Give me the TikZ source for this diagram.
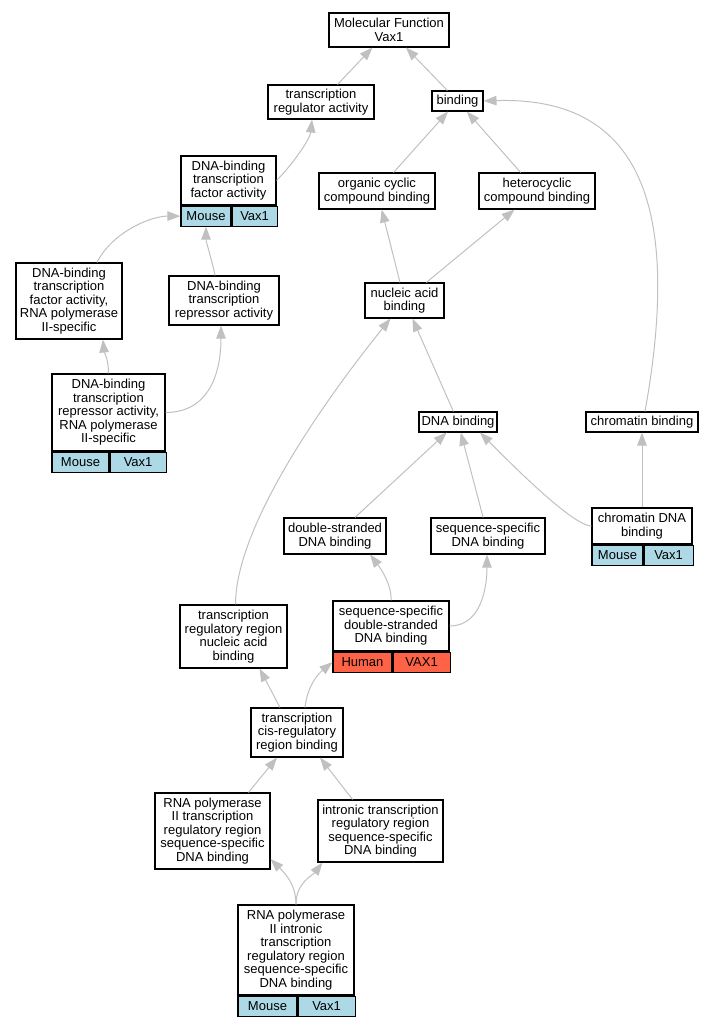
\documentclass[tikz,border=0pt]{standalone}
\usepackage{fontspec}
\setmainfont{Liberation Sans}
\usetikzlibrary{arrows.meta}
\definecolor{edgegray}{HTML}{C0C0C0}
\definecolor{mouseblue}{HTML}{ADD8E6}
\definecolor{humanred}{HTML}{FF6347}
\begin{document}
\begin{tikzpicture}[x=1pt, y=-1pt,
    term/.style={draw, line width=1.1pt, fill=white, inner sep=0pt, align=center, font=\fontsize{13}{13.5}\selectfont},
    cell/.style={term, minimum height=20pt, anchor=north west},
    edge/.style={draw=edgegray, line width=1pt, -{Triangle[length=13pt, width=9.5pt, fill=edgegray]}}
]
    \useasboundingbox (0,0) rectangle (715,1027);

    % Top terms
    \node[term, minimum width=120pt, minimum height=34pt] (mf) at (389,30) {Molecular Function\\Vax1};
    \node[term, minimum width=106pt, minimum height=34pt] (tra) at (321,102) {transcription\\regulator activity};
    \node[term, minimum width=51pt, minimum height=20pt] (bind) at (457.5,101) {binding};

    % DNA-binding transcription factor activity
    \node[term, minimum width=95pt, minimum height=49pt] (dbtf) at (228.5,180.5) {DNA-binding\\transcription\\factor activity};
    \node[cell, fill=mouseblue, minimum width=50pt] (dbtfM) at (dbtf.south west) {Mouse};
    \node[cell, fill=mouseblue, minimum width=45pt] (dbtfV) at (dbtfM.north east) {Vax1};

    % Compound binding
    \node[term, minimum width=116pt, minimum height=36pt] (occ) at (377,191) {organic cyclic\\compound binding};
    \node[term, minimum width=116pt, minimum height=36pt] (hcb) at (537,191) {heterocyclic\\compound binding};

    % Second level of transcription factors
    \node[term, minimum width=106pt, minimum height=76pt] (dbtf2) at (69,301) {DNA-binding\\transcription\\factor activity,\\RNA polymerase\\II-specific};
    \node[term, minimum width=110pt, minimum height=49pt] (dbtr) at (224,300.5) {DNA-binding\\transcription\\repressor activity};
    \node[term, minimum width=79pt, minimum height=35pt] (nab) at (404.5,300.5) {nucleic acid\\binding};

    % Repressor, RNA polymerase II
    \node[term, minimum width=113pt, minimum height=77pt] (dbtr2) at (108.5,412.5) {DNA-binding\\transcription\\repressor activity,\\RNA polymerase\\II-specific};
    \node[cell, fill=mouseblue, minimum width=57pt] (dbtr2M) at (dbtr2.south west) {Mouse};
    \node[cell, fill=mouseblue, minimum width=56pt] (dbtr2V) at (dbtr2M.north east) {Vax1};

    % DNA and chromatin binding
    \node[term, minimum width=78pt, minimum height=20pt] (dnab) at (458,422) {DNA binding};
    \node[term, minimum width=112pt, minimum height=20pt] (chb) at (642,422) {chromatin binding};
    \node[term, minimum width=102pt, minimum height=36pt] (dsdb) at (335,536) {double-stranded\\DNA binding};
    \node[term, minimum width=114pt, minimum height=36pt] (ssdb) at (488,536) {sequence-specific\\DNA binding};
    \node[term, minimum width=100pt, minimum height=36pt] (chdb) at (642,526) {chromatin DNA\\binding};
    \node[cell, fill=mouseblue, minimum width=51pt] (chdbM) at (chdb.south west) {Mouse};
    \node[cell, fill=mouseblue, minimum width=49pt] (chdbV) at (chdbM.north east) {Vax1};

    % Regulatory region binding
    \node[term, minimum width=107pt, minimum height=63pt] (trna) at (233.5,636.5) {transcription\\regulatory region\\nucleic acid\\binding};
    \node[term, minimum width=116pt, minimum height=50pt] (ssds) at (391,626) {sequence-specific\\double-stranded\\DNA binding};
    \node[cell, fill=humanred, minimum width=59pt] (ssdsH) at (ssds.south west) {Human};
    \node[cell, fill=humanred, minimum width=57pt] (ssdsV) at (ssdsH.north east) {VAX1};
    \node[term, minimum width=92pt, minimum height=49pt] (cis) at (297,732.5) {transcription\\cis-regulatory\\region binding};
    \node[term, minimum width=115pt, minimum height=76pt] (rpt) at (212.5,831) {RNA polymerase\\II transcription\\regulatory region\\sequence-specific\\DNA binding};
    \node[term, minimum width=125pt, minimum height=62pt] (intr) at (380.5,831) {intronic transcription\\regulatory region\\sequence-specific\\DNA binding};

    % Bottom term
    \node[term, minimum width=116pt, minimum height=90pt] (rpi) at (296,950) {RNA polymerase\\II intronic\\transcription\\regulatory region\\sequence-specific\\DNA binding};
    \node[cell, fill=mouseblue, minimum width=59pt] (rpiM) at (rpi.south west) {Mouse};
    \node[cell, fill=mouseblue, minimum width=57pt] (rpiV) at (rpiM.north east) {Vax1};

    % Arrows
    \draw[edge] (tra) -- (mf);
    \draw[edge] (bind) -- (mf);
    \draw[edge] (dbtf.east) .. controls +(15,-15) and +(-2,20) .. ([xshift=-9pt]tra.south);
    \draw[edge] (occ) -- (bind);
    \draw[edge] (hcb) -- (bind);
    \draw[edge] ([xshift=3pt]chb.north) .. controls +(36,-200) and +(160,-5) .. (bind.east);
    \draw[edge] ([xshift=28pt]dbtf2.north) .. controls +(15,-30) and +(-30,0) .. (dbtfM.west);
    \draw[edge] ([xshift=-9pt]dbtr.north) .. controls +(-3,-15) and +(0,15) .. (dbtfM.south);
    \draw[edge] (nab) -- (occ);
    \draw[edge] (nab) -- (hcb);
    \draw[edge] (dbtr2.north) .. controls +(0,-15) and +(1,12) .. ([xshift=34pt]dbtf2.south);
    \draw[edge] (dbtr2.east) .. controls +(45,0) and +(0,45) .. ([xshift=-3pt]dbtr.south);
    \draw[edge] (dnab) -- (nab);
    \draw[edge] (chdb.north) -- (chb.south);
    \draw[edge] (chdb.west) .. controls +(-20,0) and +(20,20) .. ([xshift=22pt]dnab.south);
    \draw[edge] (dsdb) -- (dnab);
    \draw[edge] (ssdb) -- (dnab);
    \draw[edge] ([xshift=2pt]trna.north) .. controls +(0,-85) and +(-50,62) .. ([xshift=-14pt]nab.south);
    \draw[edge] (ssds.north) .. controls +(1,-16) and +(10,13) .. ([xshift=35pt]dsdb.south);
    \draw[edge] (ssds.east) .. controls +(32,0) and +(0,32) .. ([xshift=-1pt]ssdb.south);
    \draw[edge] ([xshift=-17pt]cis.north) -- ([xshift=26pt]trna.south);
    \draw[edge] ([xshift=8pt]cis.north) .. controls +(3,-25) and +(-12,10) .. (ssdsH.west);
    \draw[edge] ([xshift=36pt]rpt.north) -- ([xshift=-20pt]cis.south);
    \draw[edge] ([xshift=-28pt]intr.north) -- ([xshift=23pt]cis.south);
    \draw[edge] (rpi.north) .. controls +(0,-22) and +(12,12) .. ([yshift=-28pt]rpt.east);
    \draw[edge] (rpi.north) .. controls +(0,-22) and +(-10,13) .. ([xshift=-58pt]intr.south);
\end{tikzpicture}
\end{document}
